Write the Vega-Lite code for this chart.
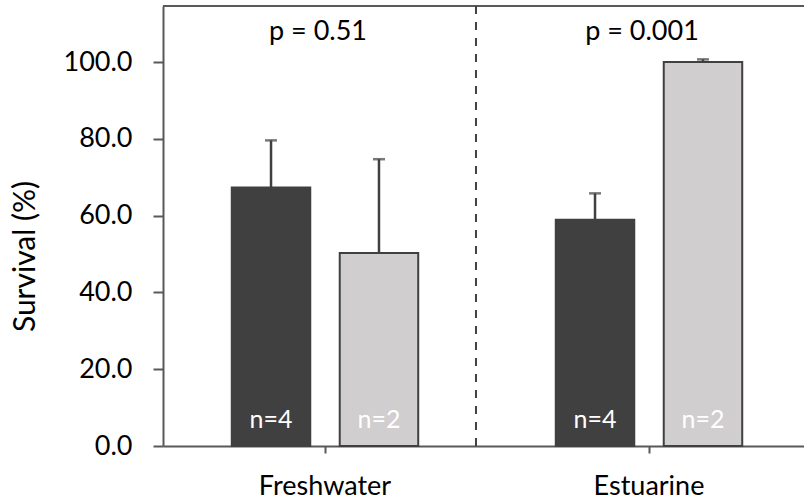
{
  "$schema": "https://vega.github.io/schema/vega-lite/v6.json",
  "width": 641,
  "height": 440,
  "autosize": {"type": "none"},
  "padding": {"left": 163, "top": 6, "right": 0, "bottom": 58},
  "config": {
    "view": {"stroke": null},
    "font": "Lato",
    "axis": {
      "domainColor": "#595959",
      "domainWidth": 2,
      "tickColor": "#595959",
      "tickWidth": 2,
      "labelColor": "#000000",
      "titleColor": "#000000",
      "grid": false
    }
  },
  "datasets": {
    "survival": [
      {"habitat": "Freshwater", "series": "S1", "mean": 67.3, "upper": 79.6, "n": "n=4"},
      {"habitat": "Freshwater", "series": "S2", "mean": 50.3, "upper": 74.7, "n": "n=2"},
      {"habitat": "Estuarine", "series": "S1", "mean": 58.9, "upper": 65.8, "n": "n=4"},
      {"habitat": "Estuarine", "series": "S2", "mean": 100.0, "upper": 100.7, "n": "n=2"}
    ],
    "tests": [
      {"habitat": "Freshwater", "label": "p = 0.51", "pos": 105.7},
      {"habitat": "Estuarine", "label": "p = 0.001", "pos": 105.7}
    ]
  },
  "encoding": {
    "x": {
      "field": "habitat",
      "type": "nominal",
      "sort": ["Freshwater", "Estuarine"],
      "scale": {"range": [0, 648], "paddingInner": 0, "paddingOuter": 0},
      "axis": {
        "title": null,
        "labelAngle": 0,
        "labelFontSize": 27,
        "labelPadding": 20,
        "tickSize": 7
      }
    }
  },
  "layer": [
    {
      "data": {"values": [{"top": 114.6}]},
      "mark": {"type": "rule", "color": "#595959", "strokeWidth": 2},
      "encoding": {
        "x": null,
        "y": {"field": "top", "type": "quantitative"}
      }
    },
    {
      "data": {"values": [{"habitat": "Freshwater"}]},
      "mark": {"type": "rule", "color": "#404040", "strokeWidth": 2, "strokeDash": [8, 8]},
      "encoding": {
        "x": {"field": "habitat", "type": "nominal", "bandPosition": 0.966}
      }
    },
    {
      "data": {"name": "survival"},
      "mark": {"type": "rule", "color": "#404040", "strokeWidth": 2.5},
      "encoding": {
        "xOffset": {"field": "series", "type": "nominal", "scale": {"paddingInner": 0.273, "paddingOuter": 0.637}},
        "y": {"field": "mean", "type": "quantitative"},
        "y2": {"field": "upper"}
      }
    },
    {
      "data": {"name": "survival"},
      "mark": {"type": "tick", "color": "#404040", "size": 12, "thickness": 2.5},
      "encoding": {
        "xOffset": {"field": "series", "type": "nominal", "scale": {"paddingInner": 0.273, "paddingOuter": 0.637}},
        "y": {"field": "upper", "type": "quantitative"}
      }
    },
    {
      "data": {"name": "survival"},
      "mark": {"type": "bar", "stroke": "#404040", "strokeWidth": 2},
      "encoding": {
        "xOffset": {"field": "series", "type": "nominal", "scale": {"paddingInner": 0.273, "paddingOuter": 0.637}},
        "y": {
          "field": "mean",
          "type": "quantitative",
          "scale": {"domain": [0, 114.6], "nice": false, "zero": true},
          "axis": {
            "title": "Survival (%)",
            "titleFontSize": 30,
            "titleFontWeight": "normal",
            "titleAngle": 270,
            "titleBaseline": "alphabetic",
            "titleX": -129,
            "titleY": 250,
            "values": [0, 20, 40, 60, 80, 100],
            "format": ".1f",
            "labelFontSize": 27,
            "labelPadding": 21,
            "tickSize": 10
          }
        },
        "color": {
          "field": "series",
          "type": "nominal",
          "scale": {"domain": ["S1", "S2"], "range": ["#404040", "#D0CECE"]},
          "legend": null
        }
      }
    },
    {
      "data": {"name": "survival"},
      "mark": {"type": "text", "color": "#FFFFFF", "fontSize": 25, "baseline": "alphabetic", "dy": -18},
      "encoding": {
        "xOffset": {"field": "series", "type": "nominal", "scale": {"paddingInner": 0.273, "paddingOuter": 0.637}},
        "y": {"datum": 0, "type": "quantitative"},
        "text": {"field": "n"}
      }
    },
    {
      "data": {"name": "tests"},
      "mark": {"type": "text", "color": "#000000", "fontSize": 27, "baseline": "alphabetic", "dx": -7},
      "encoding": {
        "y": {"field": "pos", "type": "quantitative"},
        "text": {"field": "label"}
      }
    }
  ]
}
